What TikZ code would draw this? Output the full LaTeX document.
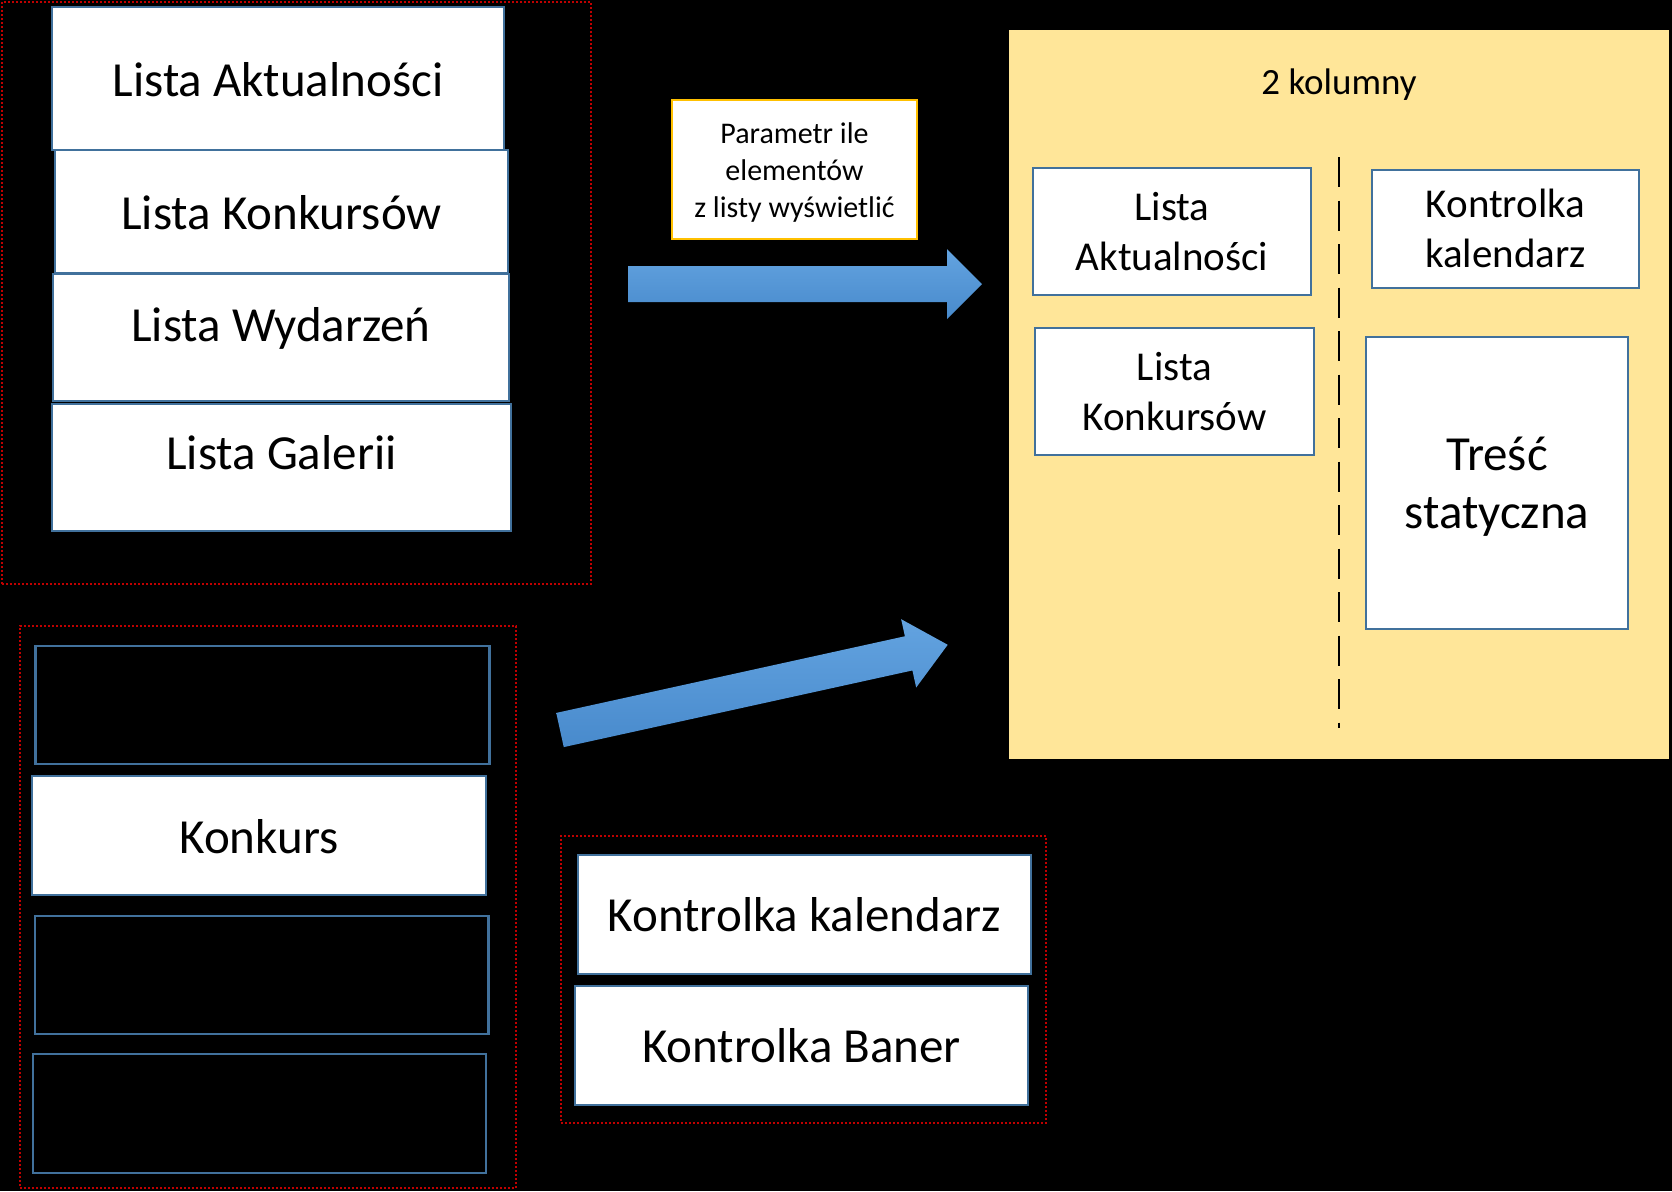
\documentclass[tikz,border=0pt]{standalone}
\usepackage{fontspec}
\setmainfont{Carlito}
\definecolor{boxblue}{HTML}{41719C}
\definecolor{dotred}{HTML}{C00000}
\definecolor{gold}{HTML}{FFC000}
\definecolor{paleyellow}{HTML}{FFE699}
\definecolor{arrtop}{RGB}{99,163,224}
\definecolor{arrbot}{RGB}{72,138,204}
\begin{document}
\begin{tikzpicture}[x=0.5pt,y=-0.5pt,
  box/.style={draw=boxblue, line width=1.1pt, fill=white, inner sep=0pt, rectangle},
  darkbox/.style={box, fill=black},
  group/.style={draw=dotred, line width=1pt, densely dotted, inner sep=0pt, rectangle},
  bigtxt/.style={font=\fontsize{24.5pt}{29pt}\selectfont, anchor=base, inner sep=0pt, align=center},
  smalltxt/.style={font=\fontsize{20.5pt}{25pt}\selectfont, anchor=base, inner sep=0pt, align=center},
  paramtxt/.style={font=\fontsize{15pt}{18.5pt}\selectfont, anchor=base, inner sep=0pt, align=center},
  blockarrow/.style={top color=arrtop, bottom color=arrbot, draw=none}]
\useasboundingbox[fill=black] (0,0) rectangle (1672,1191);

% group 1: lists
\node[group, minimum width=294.5pt, minimum height=291pt] (g1) at (296.5,293) {};
\node[box, minimum width=226pt, minimum height=71.5pt] (la) at (278,78.5) {};
\node[box, minimum width=226.5pt, minimum height=61.5pt] (lk) at (281.5,211.5) {};
\node[box, minimum width=228pt, minimum height=63.5pt] (lw) at (281,337.5) {};
\node[box, minimum width=229.5pt, minimum height=63.5pt] (lg) at (281.5,467.5) {};
\node[bigtxt] (tla) at (278,96) {Lista Aktualności};
\node[bigtxt] (tlk) at (281.5,229) {Lista Konkursów};
\node[bigtxt] (tlw) at (281,341) {Lista Wydarzeń};
\node[bigtxt] (tlg) at (281.5,469) {Lista Galerii};

% group 2
\node[group, minimum width=248pt, minimum height=281pt] (g2) at (268,907) {};
\node[darkbox, minimum width=227pt, minimum height=59.25pt] (b1) at (262.5,705) {};
\node[box, minimum width=227pt, minimum height=59.5pt] (kon) at (259,835.5) {};
\node[darkbox, minimum width=226.75pt, minimum height=59pt] (b3) at (261.75,975) {};
\node[darkbox, minimum width=226.5pt, minimum height=59.5pt] (b4) at (259.5,1113.5) {};
\node[bigtxt] (tkon) at (259,853) {Konkurs};

% group 3
\node[group, minimum width=242.5pt, minimum height=143.5pt] (g3) at (803.5,979.5) {};
\node[box, minimum width=226.5pt, minimum height=59.5pt] (kk) at (804.5,914.5) {};
\node[box, minimum width=226.5pt, minimum height=59.5pt] (kb) at (801.5,1045.5) {};
\node[bigtxt] (tkk) at (804.5,931) {Kontrolka kalendarz};
\node[bigtxt] (tkb) at (801.5,1062) {Kontrolka Baner};

% parameter note
\node[draw=gold, line width=1.2pt, fill=white, inner sep=0pt, minimum width=122.5pt, minimum height=69.5pt] (param) at (794.5,169.5) {};
\node[paramtxt] (tparam) at (794.5,217) {Parametr ile\\elementów\\z listy wyświetlić};

% layout page
\node[fill=paleyellow, inner sep=0pt, minimum width=330pt, minimum height=364.5pt] (page) at (1339,394.5) {};
\node[font=\fontsize{18.5pt}{22pt}\selectfont, anchor=base, inner sep=0pt] (cols) at (1339,94) {2 kolumny};
\coordinate (dtop) at (1339,157);
\coordinate (dbot) at (1339,728);
\draw[line width=1.4pt, dash pattern=on 15pt off 6.75pt] (dtop) -- (dbot);
\node[box, minimum width=139pt, minimum height=63.5pt] (sla) at (1172,231.5) {};
\node[box, minimum width=139.5pt, minimum height=63.5pt] (slk) at (1174.5,391.5) {};
\node[box, minimum width=133.5pt, minimum height=59pt] (skk) at (1505.5,229) {};
\node[box, minimum width=131pt, minimum height=146pt] (sts) at (1497,483) {};
\node[smalltxt] (tsla) at (1172,270) {Lista\\Aktualności};
\node[smalltxt] (tslk) at (1174.5,430.5) {Lista\\Konkursów};
\node[smalltxt] (tskk) at (1505.5,267) {Kontrolka\\kalendarz};
\node[bigtxt] (tsts) at (1497,528) {Treść\\statyczna};

% block arrows
\coordinate (a1tail) at (628,284);
\coordinate (a1tip) at (982,284);
\shade[blockarrow] (628,266) -- (947,266) -- (947,249) -- (a1tip) -- (947,319) -- (947,302) -- (628,302) -- cycle;
\begin{scope}[shift={(560,730)}, rotate=12.4]
  \coordinate (a2tail) at (0,0);
  \coordinate (a2tip) at (397,0);
  \shade[blockarrow] (0,-17.5) -- (357,-17.5) -- (357,-35) -- (a2tip) -- (357,35) -- (357,17.5) -- (0,17.5) -- cycle;
\end{scope}
\end{tikzpicture}
\end{document}
